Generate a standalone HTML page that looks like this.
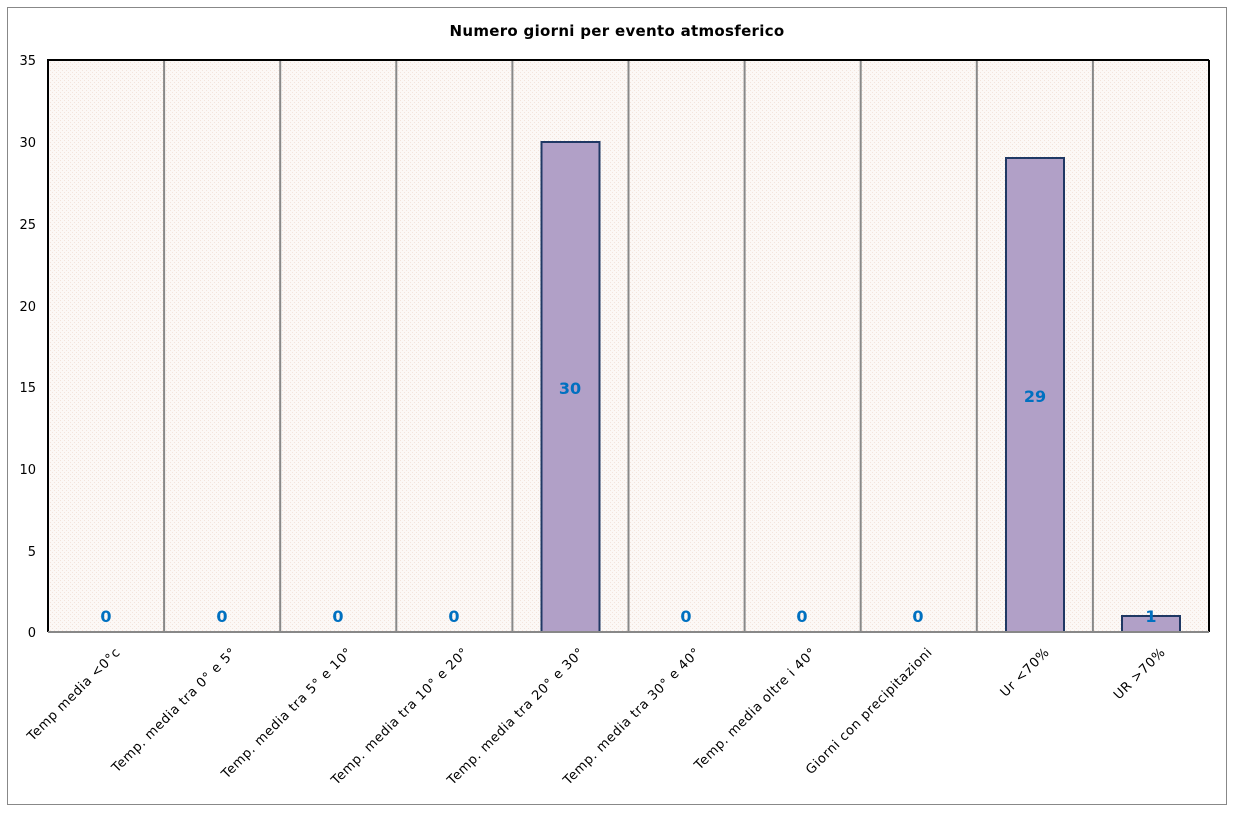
<!DOCTYPE html><html><head><style>body{margin:0;background:#fff}</style></head><body>
<svg width="1233" height="810" xmlns="http://www.w3.org/2000/svg" font-family="DejaVu Sans, Liberation Sans, sans-serif">
<defs><pattern id="p" width="4" height="4" patternUnits="userSpaceOnUse"><rect width="4" height="4" fill="#fcf8f6"/><rect width="1" height="1" fill="#f3e4dc"/><rect x="2" y="2" width="1" height="1" fill="#f3e4dc"/></pattern></defs>
<rect x="7.5" y="7.5" width="1219" height="797" fill="#fff" stroke="#888"/>
<text x="617" y="36" text-anchor="middle" font-size="15" font-weight="bold" letter-spacing="0.3">Numero giorni  per evento atmosferico</text>
<rect x="48" y="60" width="1161" height="572" fill="url(#p)"/>
<g stroke="#888" stroke-width="2">
<line x1="164.1" y1="60" x2="164.1" y2="632"/><line x1="280.2" y1="60" x2="280.2" y2="632"/><line x1="396.3" y1="60" x2="396.3" y2="632"/><line x1="512.4" y1="60" x2="512.4" y2="632"/><line x1="628.5" y1="60" x2="628.5" y2="632"/><line x1="744.6" y1="60" x2="744.6" y2="632"/><line x1="860.7" y1="60" x2="860.7" y2="632"/><line x1="976.8" y1="60" x2="976.8" y2="632"/><line x1="1092.9" y1="60" x2="1092.9" y2="632"/>
</g>
<g fill="#b1a0c7" stroke="#1f3864" stroke-width="2">
<rect x="541.5" y="142" width="58" height="490"/>
<rect x="1006" y="158" width="58" height="474"/>
<rect x="1122" y="616" width="58" height="16"/>
</g>
<line x1="48" y1="60" x2="1209" y2="60" stroke="#000" stroke-width="2"/>
<line x1="1209" y1="60" x2="1209" y2="632" stroke="#000" stroke-width="2"/>
<line x1="48" y1="59" x2="48" y2="632" stroke="#000" stroke-width="2"/>
<line x1="48" y1="632" x2="1209" y2="632" stroke="#888" stroke-width="2"/>
<g font-size="13" text-anchor="end" fill="#000">
<text x="36" y="65">35</text><text x="36" y="147">30</text><text x="36" y="229">25</text><text x="36" y="311">20</text><text x="36" y="392">15</text><text x="36" y="474">10</text><text x="36" y="556">5</text><text x="36" y="637">0</text>
</g>
<g font-size="16" font-weight="bold" fill="#0070c0" text-anchor="middle">
<text x="106" y="622">0</text><text x="222" y="622">0</text><text x="338" y="622">0</text><text x="454" y="622">0</text><text x="570" y="394">30</text><text x="686" y="622">0</text><text x="802" y="622">0</text><text x="918" y="622">0</text><text x="1035" y="402">29</text><text x="1151" y="622">1</text>
</g>
<g font-size="13" text-anchor="end" fill="#000" letter-spacing="0.6">
<text transform="translate(121,653) rotate(-45)">Temp media &lt;0°c</text>
<text transform="translate(237,653) rotate(-45)">Temp. media tra 0° e 5°</text>
<text transform="translate(353,653) rotate(-45)">Temp. media tra 5° e 10°</text>
<text transform="translate(469,653) rotate(-45)">Temp. media tra 10° e 20°</text>
<text transform="translate(585,653) rotate(-45)">Temp. media tra 20° e 30°</text>
<text transform="translate(701,653) rotate(-45)">Temp. media tra 30° e 40°</text>
<text transform="translate(817,653) rotate(-45)">Temp. media oltre i 40°</text>
<text transform="translate(933,653) rotate(-45)">Giorni con precipitazioni</text>
<text transform="translate(1050,653) rotate(-45)">Ur  &lt;70%</text>
<text transform="translate(1166,653) rotate(-45)">UR &gt;70%</text>
</g>
</svg>
</body></html>
